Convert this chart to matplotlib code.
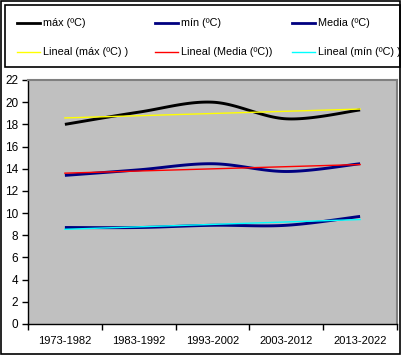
import numpy as np
import matplotlib
matplotlib.use("Agg")
import matplotlib.pyplot as plt
from matplotlib.lines import Line2D
from matplotlib.patches import Rectangle

plt.rcParams['font.family'] = ['Liberation Sans', 'DejaVu Sans']

categories = ["1973-1982", "1983-1992", "1993-2002", "2003-2012", "2013-2022"]
tmax = [18.0, 19.1, 20.0, 18.5, 19.3]
tmin = [8.7, 8.7, 8.9, 8.9, 9.7]
tmedia = [13.4, 13.9, 14.45, 13.75, 14.45]

W, H = 402, 356
fig = plt.figure(figsize=(W / 100, H / 100), dpi=100)

def fx(px):
    return px / W

def fy(py):
    return 1 - py / H

# axes placement (pixels)
L, R, T, B = 28, 397, 80, 324
ax = fig.add_axes([fx(L), fy(B), fx(R - L), (B - T) / H])
ax.set_facecolor("#C0C0C0")

def smooth(xs, ys, n=30):
    P = np.column_stack([xs, ys]).astype(float)
    Pext = np.vstack([P[0], P, P[-1]])
    out = []
    for i in range(len(P) - 1):
        p0, p1, p2, p3 = Pext[i], Pext[i + 1], Pext[i + 2], Pext[i + 3]
        c1 = p1 + (p2 - p0) / 6
        c2 = p2 - (p3 - p1) / 6
        t = np.linspace(0, 1, n)[:, None]
        seg = ((1 - t) ** 3) * p1 + 3 * ((1 - t) ** 2) * t * c1 + 3 * (1 - t) * t ** 2 * c2 + t ** 3 * p2
        out.append(seg if i == 0 else seg[1:])
    S = np.vstack(out)
    return S[:, 0], S[:, 1]

x = np.arange(len(categories))
series = [
    (tmax, "black", "#FFFF00"),
    (tmedia, "#000080", "#FF0000"),
    (tmin, "#000080", "#00FFFF"),
]
for vals, c, tc in series:
    sx, sy = smooth(x, vals)
    ax.plot(sx, sy, color=c, lw=2.1, solid_capstyle="butt", zorder=3)
    k, b0 = np.polyfit(x, vals, 1)
    ax.plot(x, k * x + b0, color=tc, lw=1.0, zorder=4)

ax.set_xlim(-0.5, len(categories) - 0.5)
ax.set_ylim(0, 22)
ax.set_yticks(np.arange(0, 23, 2))
ax.set_xticks(np.arange(-0.5, len(categories), 1.0))
ax.set_xticklabels([])
ax.set_xticks(x, minor=True)
ax.set_xticklabels(categories, minor=True)
ax.tick_params(axis="x", which="minor", length=0, pad=9, labelsize=8)
ax.tick_params(axis="x", which="major", length=4, width=1, color="black", direction="out")
ax.tick_params(axis="y", length=4, width=1, color="black", direction="out", labelsize=8.5, pad=3)
for s in ["left", "bottom"]:
    ax.spines[s].set_color("black")
    ax.spines[s].set_linewidth(1)
for s in ["top", "right"]:
    ax.spines[s].set_color("#808080")
    ax.spines[s].set_linewidth(1.5)

# outer frame
fig.add_artist(Rectangle((fx(1), fy(354)), fx(399), (353) / H, transform=fig.transFigure,
                         fill=False, ec="black", lw=1.2))
# legend box
fig.add_artist(Rectangle((fx(5), fy(67)), fx(395), 62 / H, transform=fig.transFigure,
                         fill=False, ec="black", lw=1.2))

legend_items = [
    ("máx (ºC)", "black", 2.0, 17, 23),
    ("mín (ºC)", "#000080", 2.0, 155, 23),
    ("Media (ºC)", "#000080", 2.0, 292, 23),
    ("Lineal (máx (ºC) )", "#FFFF00", 1.0, 17, 52),
    ("Lineal (Media (ºC))", "#FF0000", 1.0, 155, 52),
    ("Lineal (mín (ºC) )", "#00FFFF", 1.0, 292, 52),
]
for label, c, lw, px, py in legend_items:
    fig.add_artist(Line2D([fx(px), fx(px + 23)], [fy(py), fy(py)], transform=fig.transFigure,
                          color=c, lw=lw))
    fig.text(fx(px + 26), fy(py), label, fontsize=7.8, va="center", ha="left")

fig.savefig("out.png", dpi=100)
